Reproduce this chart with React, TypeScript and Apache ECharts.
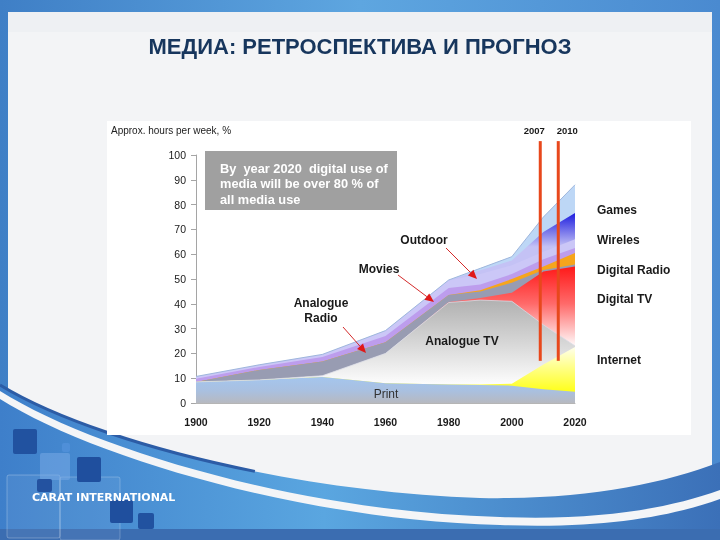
import React, { useEffect, useRef } from "react";
import * as echarts from "echarts";

// ---------- data (estimated band thickness, hours per week %, stacked bottom -> top) ----------
const years = [1900, 1920, 1940, 1960, 1980, 1990, 2000, 2010, 2020];
const printHours = [8.5, 9.3, 10.5, 8, 7.5, 7.3, 7, 5.5, 4.5];
const internetHours = [0, 0, 0, 0, 0, 0.2, 0.8, 10, 18.1];
const analogueTVHours = [0, 0, 0.5, 12, 33, 34, 33.2, 16, 0.4];
const digitalTVHours = [0, 0, 0, 0, 0.2, 0.8, 3.5, 21.5, 32];
const analogueRadioHours = [0, 4, 5.7, 4.5, 2.8, 2.7, 4, 0.6, 0.8];
const digitalRadioHours = [0, 0, 0, 0, 0, 0.5, 1.5, 1.4, 4.7];
const moviesHours = [1.3, 1.2, 1.8, 2.5, 2.9, 2.3, 2, 3, 2];
const outdoorHours = [0.8, 0.8, 1, 2, 3, 4.2, 3.5, 3, 3.5];
const wirelessHours = [0, 0, 0, 0, 0.1, 1.5, 2, 8, 10.6];
const gamesHours = [0.1, 0.1, 0.1, 0.2, 0.1, 0.8, 1.5, 6, 11.4];

const seriesNames = [
  "Print", "Internet", "Analogue TV", "Digital TV", "Analogue Radio",
  "Digital Radio", "Movies", "Outdoor", "Wireless", "Games",
];
const seriesValues = [
  printHours, internetHours, analogueTVHours, digitalTVHours, analogueRadioHours,
  digitalRadioHours, moviesHours, outdoorHours, wirelessHours, gamesHours,
];

const titleText = "МЕДИА: РЕТРОСПЕКТИВА И ПРОГНОЗ";
const yAxisTitle = "Approx. hours per week, %";
const rightLabels = ["Games", "Wireles", "Digital Radio", "Digital TV", "Internet"];
const noteLines = ["By  year 2020  digital use of", "media will be over 80 % of", "all media use"];
const markerLabels = ["2007", "2010"];
const markerYears = [2009, 2014.7]; // where the two vertical bars are drawn on the time scale
const companyText = "CARAT INTERNATIONAL";

const FONT = "Liberation Sans, Arial, sans-serif";

const P_BLUE = "M0 385 C90 440 290 492 480 498 C580 500 660 485 720 462 L720 540 L0 540 Z";
const P_WHITE =
  "M0 391 C90 448 300 512 500 517 C600 521 670 508 720 490 L720 499 C670 517 600 529 500 525 C300 520 90 456 0 399 Z";
const P_EDGE = "M0 385 C54 418 147.6 449.9 254.9 471.4";

export default function App() {
  const ref = useRef<HTMLDivElement>(null);

  useEffect(() => {
    const el = ref.current!;
    echarts.graphic.registerShape("swooshBlue", echarts.graphic.extendPath(P_BLUE, {}) as any);
    echarts.graphic.registerShape("swooshWhite", echarts.graphic.extendPath(P_WHITE, {}) as any);
    echarts.graphic.registerShape("swooshEdge", echarts.graphic.extendPath(P_EDGE, {}) as any);

    const chart = echarts.init(el, undefined, { renderer: "svg" });

    // cumulative tops of the stacked bands
    const cumulative: number[][] = [];
    seriesValues.forEach((vals, k) => {
      cumulative.push(vals.map((v, i) => +((k ? cumulative[k - 1][i] : 0) + v).toFixed(2)));
    });
    const order = seriesNames.map((_, k) => seriesNames.length - 1 - k); // draw top band first

    chart.setOption({
      animation: false,
      grid: { left: 196, right: 145, top: 155, bottom: 137, containLabel: false },
      xAxis: {
        type: "value",
        min: 1900,
        max: 2020,
        interval: 20,
        axisLine: { show: true, lineStyle: { color: "#b5b5b5" } },
        axisTick: { show: false },
        splitLine: { show: false },
        axisLabel: {
          color: "#1a1a1a", fontSize: 10.5, fontWeight: "bold", fontFamily: FONT, margin: 13,
          formatter: (v: number) => String(v),
        },
        z: 3,
      },
      yAxis: {
        type: "value",
        min: 0,
        max: 100,
        interval: 10,
        axisLine: { show: true, lineStyle: { color: "#a5a5a5" } },
        axisTick: { show: true, length: 5, lineStyle: { color: "#a5a5a5" } },
        splitLine: { show: false },
        axisLabel: { color: "#1a1a1a", fontSize: 10.5, fontFamily: FONT, margin: 10 },
      },
      series: order.map((k) => ({
        type: "line",
        name: seriesNames[k],
        data: years.map((y, i) => [y, cumulative[k][i]]),
        symbol: "none",
        showSymbol: false,
        lineStyle: { width: 0 },
        areaStyle: { color: "#cccccc", opacity: 1 },
        emphasis: { disabled: true },
        silent: true,
        z: 2,
      })),
    });

    const yPx = (v: number) => chart.convertToPixel({ yAxisIndex: 0 }, v) as number;
    const pt = (x: number, y: number) => chart.convertToPixel({ gridIndex: 0 }, [x, y]) as number[];
    const LG = (v1: number, v2: number, stops: [number, string][]) =>
      new echarts.graphic.LinearGradient(0, yPx(v1), 0, yPx(v2), stops.map(([offset, color]) => ({ offset, color })), true);

    const styles: any[] = [
      { area: LG(11, 0, [[0, "#a4c6ef"], [0.55, "#a9c0e0"], [1, "#b7b9c0"]]) },
      { area: LG(23, 4, [[0, "#fffff2"], [0.45, "#ffff8a"], [1, "#ffff14"]]) },
      { area: LG(41, 8, [[0, "#b2b2b2"], [0.5, "#d6d6d6"], [1, "#fcfcfc"]]), line: { width: 0.8, color: "#d8dbe4" } },
      { area: LG(56, 24, [[0, "#ff1414"], [0.5, "#ff6a6a"], [1, "#fff2f2"]]) },
      { area: "#989cb2" },
      { area: "#f6a51c" },
      { area: "#bd9ded" },
      { area: "#cbc7f7" },
      { area: LG(77, 63, [[0, "#1818de"], [1, "#c4c2f5"]]) },
      { area: "#bdd7f6", line: { width: 1, color: "#9fb6dc" } },
    ];

    const text = (t: string, x: number, y: number, o: any = {}) => ({
      type: "text",
      x,
      y,
      z: 60,
      silent: true,
      style: {
        text: t,
        fill: o.fill ?? "#1a1a1a",
        fontSize: o.size ?? 12,
        fontWeight: o.weight ?? "bold",
        fontFamily: o.family ?? FONT,
        textAlign: o.align ?? "left",
        textVerticalAlign: "middle",
      },
    });

    const arrow = (x1: number, y1: number, x2: number, y2: number) => {
      const dx = x2 - x1, dy = y2 - y1, L = Math.hypot(dx, dy);
      const ux = dx / L, uy = dy / L, hl = 9, hw = 4;
      const bx = x2 - ux * hl, by = y2 - uy * hl;
      return [
        { type: "line", z: 60, silent: true, shape: { x1, y1, x2: bx, y2: by }, style: { stroke: "#d42a2a", lineWidth: 1 } },
        {
          type: "polygon", z: 60, silent: true,
          shape: { points: [[x2, y2], [bx - uy * hw, by + ux * hw], [bx + uy * hw, by - ux * hw]] },
          style: { fill: "#e01818" },
        },
      ];
    };

    const sq = (x: number, y: number, w: number, h: number, fill: string, stroke?: string) => ({
      type: "rect", z: -5, silent: true,
      shape: { x, y, width: w, height: h, r: 2 },
      style: { fill, stroke: stroke ?? "none", lineWidth: 1 },
    });

    const markerGraphics: any[] = [];
    markerYears.forEach((yr, i) => {
      const top = pt(yr, 105.6);
      const bot = pt(yr, 17);
      markerGraphics.push({
        type: "line", z: 62, silent: true,
        shape: { x1: top[0], y1: top[1], x2: bot[0], y2: bot[1] },
        style: { stroke: "#e8481c", lineWidth: 3 },
      });
      markerGraphics.push(text(markerLabels[i], top[0] - (i === 0 ? 6 : -9), top[1] - 11, { size: 9.5, align: "center" }));
    });

    const rightY = [210, 240, 270, 299, 360];

    const graphic: any[] = [
      // slide background
      {
        type: "rect", z: -20, silent: true,
        shape: { x: 0, y: 0, width: 720, height: 540 },
        style: {
          fill: new echarts.graphic.LinearGradient(0, 0, 1, 0, [
            { offset: 0, color: "#3f7fc6" }, { offset: 0.5, color: "#5ea6e0" }, { offset: 1, color: "#4a8ad0" },
          ]),
        },
      },
      { type: "rect", z: -19, silent: true, shape: { x: 8, y: 12, width: 704, height: 520 }, style: { fill: "#f3f4f6" } },
      { type: "rect", z: -19, silent: true, shape: { x: 8, y: 12, width: 704, height: 20 }, style: { fill: "#eef0f3" } },
      {
        type: "swooshBlue", x: 0, y: 0, z: -18, silent: true,
        style: {
          fill: new echarts.graphic.LinearGradient(0, 0, 1, 0, [
            { offset: 0, color: "#3e7fca" }, { offset: 0.45, color: "#5aa6e0" }, { offset: 1, color: "#3b70b8" },
          ]),
        },
      },
      { type: "swooshWhite", x: 0, y: 0, z: -17, silent: true, style: { fill: "#f4f5f7" } },
      { type: "swooshEdge", x: 0, y: 0, z: -17, silent: true, style: { fill: "none", stroke: "#2c5ca6", lineWidth: 3 } },
      { type: "rect", z: -16, silent: true, shape: { x: 0, y: 529, width: 720, height: 11 }, style: { fill: "#3b6db1" } },
      // decorative squares
      sq(7, 475, 53, 63, "rgba(255,255,255,0.06)", "rgba(255,255,255,0.25)"),
      sq(60, 477, 60, 63, "rgba(255,255,255,0.05)", "rgba(255,255,255,0.22)"),
      sq(40, 453, 30, 27, "rgba(120,170,230,0.55)"),
      sq(13, 429, 24, 25, "#2152a0"),
      sq(62, 443, 8, 9, "#4f8fd8"),
      sq(77, 457, 24, 25, "#1f4f9e"),
      sq(37, 479, 15, 13, "#2352a0"),
      sq(110, 500, 23, 23, "#1f4f9e"),
      sq(138, 513, 16, 16, "#2152a0"),
      {
        type: "text", x: 32, y: 497, z: -4, silent: true,
        style: {
          text: companyText, fill: "#ffffff", fontSize: 11, fontWeight: "bold",
          fontFamily: "DejaVu Sans, sans-serif", textAlign: "left", textVerticalAlign: "middle",
        },
      },
      // chart panel
      { type: "rect", z: -10, silent: true, shape: { x: 107, y: 121, width: 584, height: 314 }, style: { fill: "#ffffff" } },
      // title
      text(titleText, 360, 46, { size: 22, fill: "#17365d", align: "center" }),
      // axis title
      text(yAxisTitle, 111, 130, { size: 10, weight: "normal", fill: "#222222" }),
      // note box
      { type: "rect", z: 58, silent: true, shape: { x: 205, y: 151, width: 192, height: 59 }, style: { fill: "#a0a0a0" } },
      ...noteLines.map((s, i) => text(s, 220, 168 + i * 15.5, { size: 12.8, fill: "#ffffff" })),
      // right-hand labels
      ...rightLabels.map((s, i) => text(s, 597, rightY[i], { size: 12 })),
      // in-chart labels
      text("Outdoor", 424, 240, { size: 12, align: "center" }),
      text("Movies", 379, 269, { size: 12, align: "center" }),
      text("Analogue", 321, 303, { size: 12, align: "center" }),
      text("Radio", 321, 318, { size: 12, align: "center" }),
      text("Analogue TV", 462, 341, { size: 12, align: "center" }),
      text("Print", 386, 394, { size: 12, weight: "normal", align: "center", fill: "#333333" }),
      ...arrow(446, 248, 477, 279),
      ...arrow(398, 275, 434, 302),
      ...arrow(343, 327, 366, 353),
      ...markerGraphics,
    ];

    chart.setOption({
      series: order.map((k) => {
        const s = styles[k];
        return {
          areaStyle: { color: s.area, opacity: 1 },
          lineStyle: s.line ? { width: s.line.width, color: s.line.color } : { width: 0 },
        };
      }),
      graphic,
    });

    return () => chart.dispose();
  }, []);

  return <div ref={ref} style={{ position: "fixed", left: 0, top: 0, width: 720, height: 540 }} />;
}
